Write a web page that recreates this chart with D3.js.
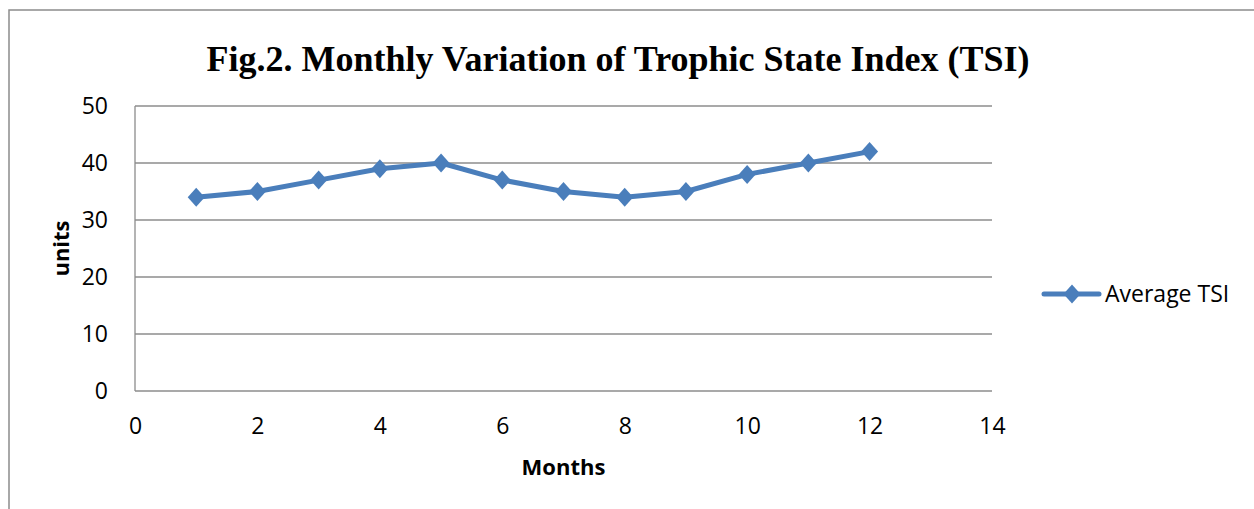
<!DOCTYPE html>
<html>
<head>
<meta charset="utf-8">
<script src="https://cdn.jsdelivr.net/npm/d3@7"></script>
<style>
  body { margin: 0; background: #fff; }
</style>
</head>
<body>
<div id="dvBody"></div>
<script>
//datos del grafico
var meses = [1, 2, 3, 4, 5, 6, 7, 8, 9, 10, 11, 12];
var tsiPromedio = [34, 35, 37, 39, 40, 37, 35, 34, 35, 38, 40, 42];
var ticksX = [0, 2, 4, 6, 8, 10, 12, 14];
var ticksY = [0, 10, 20, 30, 40, 50];
var titulo = "Fig.2. Monthly Variation of Trophic State Index (TSI)";
var nombreSerie = "Average TSI";

var datos = meses.map(function(m, i) { return {mes: m, valor: tsiPromedio[i]}; });

var W = 1254, H = 509;
var margin = {top: 106, right: 262, bottom: 118, left: 135},
    width = W - margin.left - margin.right,
    height = H - margin.top - margin.bottom;

var azul = "#4a7ebb";
var gris = "#8c8c8c";
var fuente = "'Open Sans', 'Noto Sans', sans-serif";

var svgRoot = d3.select("#dvBody")
  .append("svg")
  .attr("width", W)
  .attr("height", H);

//marco exterior del grafico (recortado a la derecha y abajo)
svgRoot.append("rect")
  .attr("x", 9)
  .attr("y", 10)
  .attr("width", W + 20)
  .attr("height", H + 20)
  .attr("fill", "none")
  .attr("stroke", gris)
  .attr("stroke-width", 1.5);

var svg = svgRoot.append("g")
  .attr("transform", "translate(" + margin.left + "," + margin.top + ")");

//escalas
var x = d3.scaleLinear().domain([0, 14]).range([0, width]);
var y = d3.scaleLinear().domain([0, 50]).range([height, 0]);

//grid horizontal
svg.append("g")
  .selectAll("line")
  .data(ticksY)
  .join("line")
  .attr("x1", 0)
  .attr("x2", width)
  .attr("y1", d => y(d))
  .attr("y2", d => y(d))
  .attr("stroke", gris)
  .attr("stroke-width", 1.3);

//eje vertical
svg.append("line")
  .attr("x1", 0).attr("x2", 0)
  .attr("y1", 0).attr("y2", height)
  .attr("stroke", gris)
  .attr("stroke-width", 1.3);

//eje Y
var ejeY = svg.append("g")
  .call(d3.axisLeft(y).tickValues(ticksY).tickSize(0).tickPadding(27));
ejeY.select(".domain").remove();
ejeY.selectAll("text")
  .style("font-family", fuente)
  .style("font-size", "23px")
  .attr("fill", "#000");

//eje X
var ejeX = svg.append("g")
  .attr("transform", "translate(0," + height + ")")
  .call(d3.axisBottom(x).tickValues(ticksX).tickSize(0).tickPadding(27));
ejeX.select(".domain").remove();
ejeX.selectAll("text")
  .style("font-family", fuente)
  .style("font-size", "23px")
  .attr("fill", "#000");

//linea de datos
svg.append("path")
  .datum(datos)
  .attr("fill", "none")
  .attr("stroke", azul)
  .attr("stroke-width", 5)
  .attr("stroke-linejoin", "round")
  .attr("d", d3.line()
    .x(d => x(d.mes))
    .y(d => y(d.valor)));

//marcadores en rombo
var rombo = "M0,-9.5L8.5,0L0,9.5L-8.5,0Z";
svg.append("g")
  .selectAll("path")
  .data(datos)
  .join("path")
  .attr("transform", d => "translate(" + x(d.mes) + "," + y(d.valor) + ")")
  .attr("d", rombo)
  .attr("fill", azul);

//titulo
svgRoot.append("text")
  .attr("x", 618)
  .attr("y", 71)
  .attr("text-anchor", "middle")
  .style("font-family", "'Liberation Serif', 'Times New Roman', serif")
  .style("font-weight", "bold")
  .style("font-size", "36px")
  .text(titulo);

//titulo eje Y
svgRoot.append("text")
  .attr("transform", "translate(69," + (margin.top + height / 2) + ") rotate(-90)")
  .attr("text-anchor", "middle")
  .style("font-family", fuente)
  .style("font-weight", "bold")
  .style("font-size", "22px")
  .text("units");

//titulo eje X
svgRoot.append("text")
  .attr("x", margin.left + width / 2)
  .attr("y", 475)
  .attr("text-anchor", "middle")
  .style("font-family", fuente)
  .style("font-weight", "bold")
  .style("font-size", "22px")
  .text("Months");

//leyenda
var leyenda = svgRoot.append("g").attr("transform", "translate(1044,294)");
leyenda.append("line")
  .attr("x1", 0).attr("x2", 55)
  .attr("y1", 0).attr("y2", 0)
  .attr("stroke", azul)
  .attr("stroke-width", 5)
  .attr("stroke-linecap", "round");
leyenda.append("path")
  .attr("transform", "translate(28,0)")
  .attr("d", rombo)
  .attr("fill", azul);
leyenda.append("text")
  .attr("x", 61)
  .attr("y", 0)
  .attr("dy", "0.35em")
  .style("font-family", fuente)
  .style("font-size", "23px")
  .text(nombreSerie);
</script>
</body>
</html>
